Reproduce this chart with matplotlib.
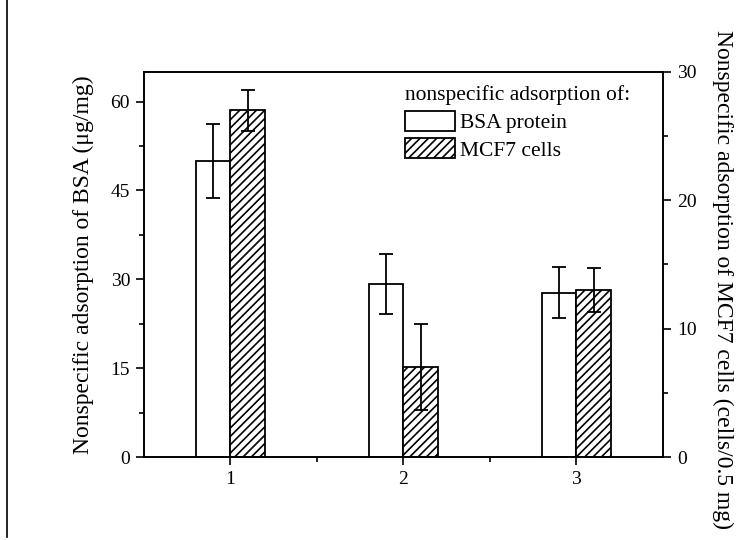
import matplotlib
matplotlib.use("Agg")
import matplotlib.pyplot as plt
from matplotlib.patches import Patch
from matplotlib.lines import Line2D
import numpy as np

groups = [1, 2, 3]
bsa_values = [50.0, 29.2, 27.7]
bsa_errors = [6.3, 5.0, 4.3]
mcf7_values = [27.0, 7.0, 13.0]
mcf7_errors = [1.6, 3.35, 1.7]
left_ticks = [0, 15, 30, 45, 60]
right_ticks = [0, 10, 20, 30]

plt.rcParams['font.family'] = ['Liberation Serif', 'DejaVu Serif']
plt.rcParams['hatch.linewidth'] = 1.2

fig = plt.figure(figsize=(7.44, 5.40), dpi=100)
ax = fig.add_axes([0.1935, 0.1537, 0.6975, 0.713])
ax2 = ax.twinx()

x = np.array(groups, dtype=float)
w = 0.2
ax.bar(x - w/2, bsa_values, width=w, facecolor='white', edgecolor='black', linewidth=1.3, zorder=2)
ax.errorbar(x - w/2, bsa_values, yerr=bsa_errors, fmt='none', ecolor='black', elinewidth=1.3,
            capsize=5, capthick=1.3, zorder=3)
ax2.bar(x + w/2, mcf7_values, width=w, facecolor='white', edgecolor='black', linewidth=1.3,
        hatch='////', zorder=2)
ax2.errorbar(x + w/2, mcf7_values, yerr=mcf7_errors, fmt='none', ecolor='black', elinewidth=1.3,
             capsize=5, capthick=1.3, zorder=3)

ax.set_xlim(0.5, 3.5)
ax.set_ylim(0, 65)
ax2.set_ylim(0, 30)
ax.set_xticks(groups)
ax.set_xticklabels([str(g) for g in groups])
ax.set_xticks([1.5, 2.5], minor=True)
ax.set_yticks(left_ticks)
ax.set_yticks(np.arange(7.5, 65, 15), minor=True)
ax2.set_yticks(right_ticks)
ax2.set_yticks([5, 15, 25], minor=True)

for a in (ax, ax2):
    for s in a.spines.values():
        s.set_linewidth(1.2)
    a.tick_params(which='major', direction='out', length=6, width=1.2, labelsize=14, pad=4)
    a.tick_params(which='minor', direction='out', length=3.5, width=1.2)

ax.set_ylabel('Nonspecific adsorption of BSA (μg/mg)', fontsize=17, labelpad=12)
ax2.set_ylabel('Nonspecific adsorption of MCF7 cells (cells/0.5 mg)', fontsize=17,
               rotation=270, labelpad=32)
ax2.yaxis.set_label_coords(1.135, 0.46)

handles = [Patch(facecolor='white', edgecolor='black', linewidth=1.3, label='BSA protein'),
           Patch(facecolor='white', edgecolor='black', linewidth=1.3, hatch='////', label='MCF7 cells')]
leg = ax2.legend(handles=handles, title='nonspecific adsorption of:', frameon=False,
                 loc='upper left', bbox_to_anchor=(0.47, 1.01), fontsize=15.5, title_fontsize=15.5,
                 handlelength=2.3, handleheight=1.05, handletextpad=0.25, labelspacing=0.25,
                 borderpad=0.3, alignment='left')

fig.add_artist(Line2D([7/744, 7/744], [0.005, 1.0], color='black', linewidth=1.2,
                      transform=fig.transFigure))

fig.savefig('out.png', dpi=100)
